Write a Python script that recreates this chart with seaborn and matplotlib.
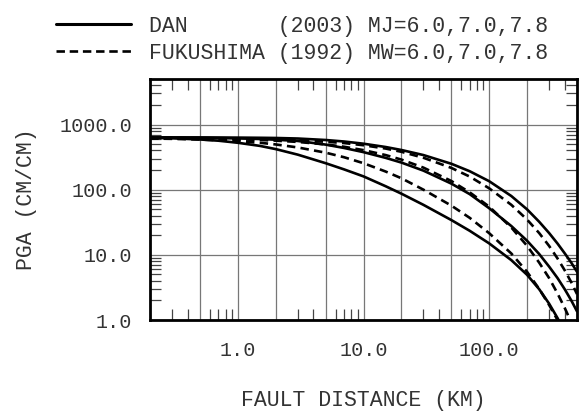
import matplotlib
matplotlib.use("Agg")
import matplotlib.pyplot as plt
import seaborn as sns
import pandas as pd
from matplotlib.ticker import FixedLocator, FixedFormatter, NullFormatter
from matplotlib.lines import Line2D

# ---- data ----
distance = [0.2, 0.3, 0.5, 0.7, 1, 1.5, 2, 3, 5, 7, 10, 15, 20, 30, 50, 70,
            100, 150, 200, 250, 300, 350, 400, 450, 500]

dan_m60 = [625, 615, 590, 565, 525, 470, 420, 345, 255, 205, 160, 113, 87, 58.5, 34.2, 23.4,
           15.0, 8.3, 4.95, 2.97, 1.78, 1.07, 0.65, 0.39, 0.23]
dan_m70 = [630, 628, 625, 620, 612, 600, 585, 560, 492, 437, 377, 308, 261, 196, 124, 85.5,
           52, 27.7, 16.5, 10.3, 6.6, 4.4, 2.95, 2.0, 1.36]
dan_m78 = [635, 635, 634, 632, 630, 626, 622, 610, 579, 549, 508, 452, 407, 340, 250, 192,
           135, 80, 50, 32.2, 21.6, 14.9, 10.5, 7.6, 5.5]

fuk_m60 = [610, 603, 588, 575, 555, 525, 495, 445, 370, 315, 255, 190, 150, 100, 57, 37,
           21.5, 10.5, 5.5, 3.0, 1.7, 1.0, 0.6, 0.35, 0.2]
fuk_m70 = [618, 615, 609, 603, 594, 580, 566, 541, 495, 456, 405, 340, 290, 218, 136, 91,
           55, 26.3, 13.8, 7.6, 4.4, 2.55, 1.52, 0.92, 0.56]
fuk_m78 = [621, 620, 617, 614, 606, 598, 590, 575, 545, 520, 481, 428, 382, 309, 216, 159,
           105, 58.6, 34.9, 21.6, 13.7, 8.8, 5.75, 3.8, 2.5]

dan_label = "DAN       (2003) MJ=6.0,7.0,7.8"
fuk_label = "FUKUSHIMA (1992) MW=6.0,7.0,7.8"

x_major = [0.5, 1, 2, 5, 10, 20, 50, 100, 200]
x_major_labels = ["", "1.0", "", "", "10.0", "", "", "100.0", ""]
x_minor = [0.3, 0.4, 0.6, 0.7, 0.8, 0.9, 3, 4, 6, 7, 8, 9, 30, 40, 60, 70, 80, 90, 300, 400]
y_major = [1, 10, 100, 1000]
y_major_labels = ["1.0", "10.0", "100.0", "1000.0"]
y_minor = [2, 3, 4, 5, 6, 7, 8, 9, 20, 30, 40, 50, 60, 70, 80, 90,
           200, 300, 400, 500, 600, 700, 800, 900, 2000, 3000, 4000]

rows = []
for model, mag, vals in [(dan_label, "6.0", dan_m60), (dan_label, "7.0", dan_m70), (dan_label, "7.8", dan_m78),
                         (fuk_label, "6.0", fuk_m60), (fuk_label, "7.0", fuk_m70), (fuk_label, "7.8", fuk_m78)]:
    for d, v in zip(distance, vals):
        rows.append({"distance": d, "pga": v, "model": model, "mag": mag})
df = pd.DataFrame(rows)

sns.set_theme(style="white")
plt.rcParams["font.family"] = ["Liberation Mono", "DejaVu Sans Mono"]

fig = plt.figure(figsize=(5.79, 4.15), dpi=100)
ax = fig.add_axes([150 / 579, 1 - 320 / 415, 427 / 579, 241 / 415])

dash_map = {dan_label: "", fuk_label: (3.2, 2.0)}
sns.lineplot(data=df, x="distance", y="pga", style="model", units="mag", estimator=None,
             dashes=dash_map, color="black", linewidth=1.9, legend=False, ax=ax, sort=False)

ax.set_xscale("log")
ax.set_yscale("log")
ax.set_xlim(0.2, 500)
ax.set_ylim(1, 5000)

ax.xaxis.set_major_locator(FixedLocator(x_major))
ax.xaxis.set_major_formatter(FixedFormatter(x_major_labels))
ax.xaxis.set_minor_locator(FixedLocator(x_minor))
ax.xaxis.set_minor_formatter(NullFormatter())
ax.yaxis.set_major_locator(FixedLocator(y_major))
ax.yaxis.set_major_formatter(FixedFormatter(y_major_labels))
ax.yaxis.set_minor_locator(FixedLocator(y_minor))
ax.yaxis.set_minor_formatter(NullFormatter())

ax.grid(True, which="major", color="#777777", linewidth=0.9)
ax.tick_params(which="major", length=0, labelsize=14.5, labelcolor="#333333")
ax.tick_params(axis="x", which="major", pad=15)
ax.tick_params(axis="y", which="major", pad=13)
ax.tick_params(which="minor", direction="in", length=8, width=0.9, color="#444444",
               top=True, bottom=True, left=True, right=True)
for s in ax.spines.values():
    s.set_color("black")
    s.set_linewidth(2.0)

ax.set_xlabel("FAULT DISTANCE (KM)", fontsize=15.5, color="#333333", labelpad=22)
ax.set_ylabel("PGA (CM/CM)", fontsize=15.5, color="#333333", labelpad=16)

handles = [Line2D([], [], color="black", linewidth=2.2),
           Line2D([], [], color="black", linewidth=1.9, linestyle=(0, (3.2, 1.8)))]
fig.legend(handles, [dan_label, fuk_label], loc="upper left",
           bbox_to_anchor=(47 / 579, 1 - 7 / 415), frameon=False, borderaxespad=0,
           prop={"family": ["Liberation Mono"], "size": 15.5}, handlelength=3.5,
           handletextpad=0.85, labelspacing=0.28, labelcolor="#333333")

fig.savefig("out.png", dpi=100)
